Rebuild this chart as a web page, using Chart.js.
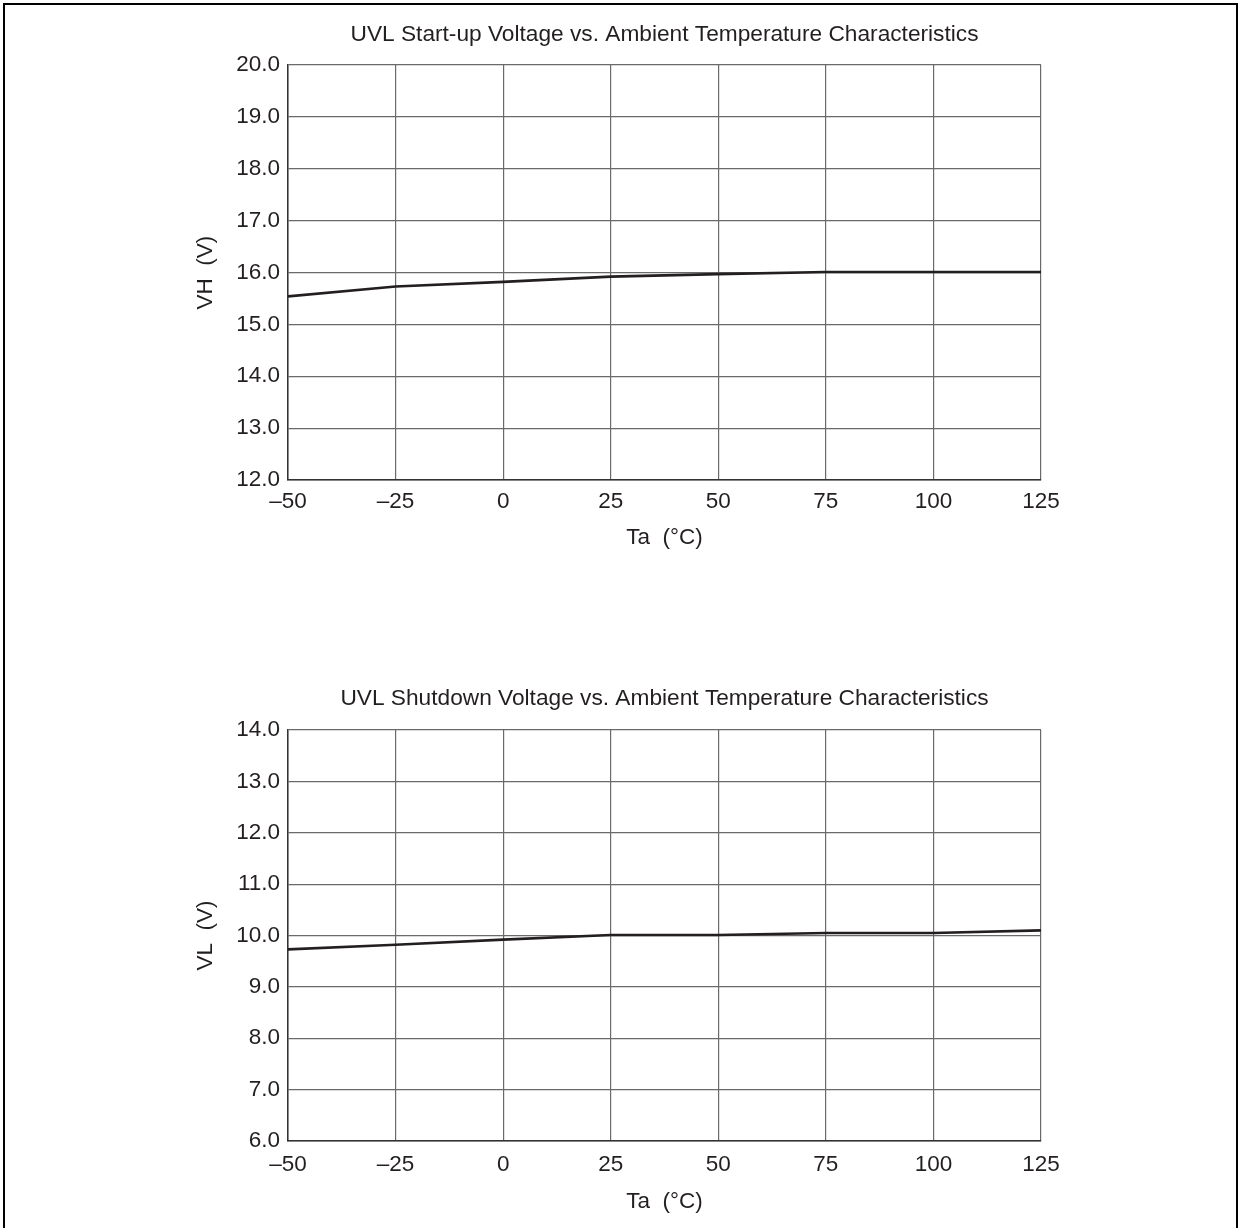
<!DOCTYPE html>
<html>
<head>
<meta charset="utf-8">
<script src="https://cdn.jsdelivr.net/npm/chart.js@4.4.0/dist/chart.umd.min.js"></script>
<style>
  html, body { margin: 0; padding: 0; background: #fff; width: 1246px; height: 1228px; overflow: hidden; }
  #frame { position: absolute; left: 3px; top: 3px; width: 1235px; height: 1260px; border: 2px solid #000; box-sizing: border-box; }
  canvas { position: absolute; left: 0; }
  #c1 { top: 0; }
  #c2 { top: 600px; }
</style>
</head>
<body>
<div id="frame"></div>
<canvas id="c1" width="1246" height="600"></canvas>
<canvas id="c2" width="1246" height="628"></canvas>
<script>
// ---- Data ----
const temperatures = [-50, -25, 0, 25, 50, 75, 100, 125];
const xTickLabels = ['\u201350', '\u201325', '0', '25', '50', '75', '100', '125'];
const startupVoltage = [15.54, 15.73, 15.82, 15.92, 15.97, 16.01, 16.01, 16.01];
const shutdownVoltage = [9.73, 9.82, 9.92, 10.01, 10.01, 10.05, 10.05, 10.10];
const startupYTicks = [12, 13, 14, 15, 16, 17, 18, 19, 20];
const shutdownYTicks = [6, 7, 8, 9, 10, 11, 12, 13, 14];
const title1 = 'UVL Start-up Voltage vs. Ambient Temperature Characteristics';
const title2 = 'UVL Shutdown Voltage vs. Ambient Temperature Characteristics';
const yTitle1 = 'VH  (V)';
const yTitle2 = 'VL  (V)';
const xTitle = 'Ta  (\u00B0C)';

const FONT = 'Arial, "Liberation Sans", Helvetica, sans-serif';
const TXT = '#231f20';
const GRID = '#6a6a6a';

function makeChart(id, values, yTicks, title, yTitle, p) {
  const points = temperatures.map((t, i) => ({ x: t, y: values[i] }));
  return new Chart(document.getElementById(id), {
    type: 'line',
    data: {
      datasets: [{
        data: points,
        borderColor: '#231f20',
        borderWidth: 2.6,
        pointRadius: 0,
        tension: 0,
        fill: false
      }]
    },
    options: {
      responsive: false,
      animation: false,
      events: [],
      layout: { padding: { left: 188, right: 205, top: 0, bottom: p.bottom } },
      plugins: {
        legend: { display: false },
        tooltip: { enabled: false },
        title: {
          display: true,
          text: title,
          fullSize: false,
          color: TXT,
          font: { family: FONT, size: 22.7, weight: 'normal', lineHeight: 1.2 },
          padding: { top: p.titleTop, bottom: p.titleBottom }
        }
      },
      scales: {
        x: {
          type: 'linear',
          min: temperatures[0],
          max: temperatures[temperatures.length - 1],
          afterFit: s => { s.height = 80; },
          afterBuildTicks: s => { s.ticks = temperatures.map(v => ({ value: v })); },
          ticks: {
            color: TXT,
            padding: p.xTickPad,
            maxRotation: 0,
            autoSkip: false,
            font: { family: FONT, size: 22.5, lineHeight: 1.2 },
            callback: (v) => xTickLabels[temperatures.indexOf(v)]
          },
          grid: { color: GRID, lineWidth: 1.2, drawTicks: false },
          border: { color: '#333', width: 1.5 },
          title: {
            display: true, text: xTitle, color: TXT,
            font: { family: FONT, size: 22.5, lineHeight: 1.2 },
            padding: { top: 0, bottom: p.xTitlePad }
          }
        },
        y: {
          type: 'linear',
          min: yTicks[0],
          max: yTicks[yTicks.length - 1],
          afterFit: s => { s.width = 100; },
          afterBuildTicks: s => { s.ticks = yTicks.map(v => ({ value: v })); },
          ticks: {
            color: TXT,
            padding: 8,
            autoSkip: false,
            font: { family: FONT, size: 22.5, lineHeight: 1.2 },
            callback: v => Number(v).toFixed(1)
          },
          grid: { color: GRID, lineWidth: 1.2, drawTicks: false },
          border: { color: '#333', width: 1.5 },
          title: {
            display: true, text: yTitle, color: TXT,
            font: { family: FONT, size: 22.5, lineHeight: 1.2 },
            padding: { top: 4, bottom: 0 }
          }
        }
      }
    }
  });
}

makeChart('c1', startupVoltage, startupYTicks, title1, yTitle1,
  { titleTop: 21.5, titleBottom: 16.3, xTickPad: 8.5, xTitlePad: 8.5, bottom: 40 });
makeChart('c2', shutdownVoltage, shutdownYTicks, title2, yTitle2,
  { titleTop: 85.5, titleBottom: 17.3, xTickPad: 10.5, xTitlePad: 5.5, bottom: 7 });
</script>
</body>
</html>
